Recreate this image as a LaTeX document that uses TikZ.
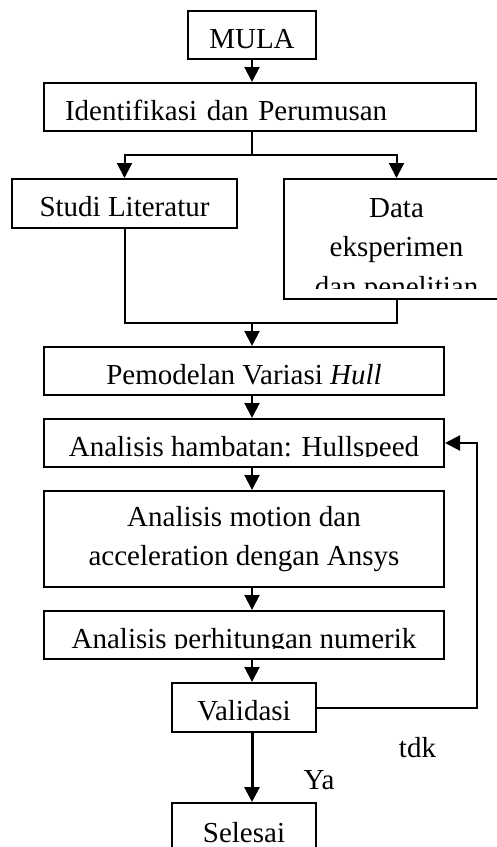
\documentclass[tikz,border=0pt]{standalone}
\usepackage{fontspec}
\setmainfont{Liberation Serif}
\usetikzlibrary{arrows.meta, calc}

\begin{document}
\begin{tikzpicture}[
    x=1pt, y=-1pt,
    every node/.style={font=\fontsize{29}{39.5}\selectfont},
    box/.style={draw, line width=2pt, inner sep=0pt, minimum height=48pt, text height=26pt, text depth=0pt},
    tallbox/.style={draw, line width=2pt, inner sep=0pt, align=center},
    cutbox/.style={draw, line width=2pt, inner sep=0pt},
    cut/.style 2 args={path picture={
        \clip (path picture bounding box.north west) rectangle ([yshift=11pt]path picture bounding box.south east);
        \node[anchor=base, inner sep=0pt, draw=none, fill=none] at ([yshift=-#1]path picture bounding box.north) {#2};}},
    arrow/.style={-{Triangle[length=15pt, width=15pt]}, line width=2pt},
    line/.style={line width=2pt}
]
\useasboundingbox (0,0) rectangle (497,847);
% kotak alur
\node[box, minimum width=128pt] (mula) at (252,35) {MULA};
\node[box, minimum width=432pt, text width=390pt, inner xsep=21pt, align=left] (ident) at (260,107) {Identifikasi dan Perumusan};
\node[box, minimum width=225pt, minimum height=49pt] (studi) at (124.5,203.5) {Studi Literatur};
\node[cutbox, minimum width=225pt, minimum height=120pt, cut={38pt}{\parbox[t]{224pt}{\centering Data\\eksperimen\\dan penelitian}}] (data) at (396.5,239) {};
\node[box, minimum width=400pt] (model) at (244,371) {Pemodelan Variasi \textit{Hull}};
\node[cutbox, minimum width=400pt, minimum height=48pt, cut={37pt}{Analisis hambatan: Hullspeed}] (hambatan) at (244,443) {};
\node[tallbox, minimum width=400pt, minimum height=96pt] (motion) at (244,539) {Analisis motion dan\\acceleration dengan Ansys};
\node[cutbox, minimum width=400pt, minimum height=48pt, cut={37pt}{Analisis perhitungan numerik}] (hitung) at (244,635) {};
\node[box, minimum width=144pt, minimum height=49pt] (valid) at (244,707.5) {Validasi};
\node[box, minimum width=144pt, minimum height=52pt] (selesai) at (244,829) {Selesai};
\node[anchor=base] (tdk) at (417.5,757) {tdk};
\node[anchor=base] (ya) at (319,789) {Ya};
% panah
\draw[arrow] (mula) -- (mula.south |- ident.north);
\draw[line] (mula.south |- ident.south) -- ++(0,23) coordinate (split);
\draw[arrow] (split) -| (studi.north);
\draw[arrow] (split) -| (data.north);
\coordinate (merge) at (252,323);
\draw[line] (studi.south) |- (merge) -| (data.south);
\draw[arrow] (merge) -- (mula.south |- model.north);
\draw[arrow] (mula.south |- model.south) -- (mula.south |- hambatan.north);
\draw[arrow] (mula.south |- hambatan.south) -- (mula.south |- motion.north);
\draw[arrow] (mula.south |- motion.south) -- (mula.south |- hitung.north);
\draw[arrow] (mula.south |- hitung.south) -- (mula.south |- valid.north);
\draw[arrow, line width=3pt] (mula.south |- valid.south) -- (mula.south |- selesai.north);
\draw[arrow] (valid.east) -- ++(160,0) |- (hambatan.east);
\end{tikzpicture}
\end{document}
